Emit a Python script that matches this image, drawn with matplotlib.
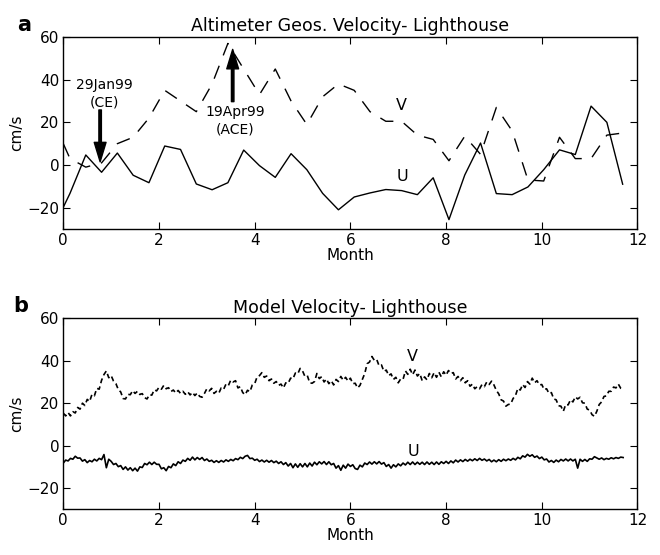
import numpy as np
import matplotlib
matplotlib.use("Agg")
import matplotlib.pyplot as plt

plt.rcParams['font.family'] = ['DejaVu Sans']

# altimeter (10-day) velocities, panel a
alt_month = [0.0, 0.14, 0.47, 0.80, 1.13, 1.46, 1.79, 2.12, 2.45, 2.78, 3.11, 3.44,
             3.77, 4.10, 4.43, 4.76, 5.09, 5.42, 5.75, 6.08, 6.41, 6.74, 7.07, 7.40,
             7.73, 8.06, 8.39, 8.72, 9.05, 9.38, 9.71, 10.04, 10.37, 10.70, 11.03,
             11.36, 11.69]
alt_u = [-19.8, -13.3, 4.7, -3.4, 5.6, -4.8, -8.3, 8.9, 7.3, -8.9, -11.6, -8.3,
         7.0, -0.3, -5.8, 5.3, -2.2, -13.3, -21.0, -15.0, -13.1, -11.5, -12.0, -13.9,
         -6.0, -25.6, -4.7, 10.3, -13.4, -13.9, -10.3, -2.2, 7.1, 4.9, 27.6,
         20.0, -9.0]
alt_v = [10.0, 3.0, -1.0, 1.0, 10.0, 13.0, 22.0, 35.0, 30.0, 25.0, 38.0, 57.0,
         45.0, 33.0, 45.0, 30.0, 19.0, 32.0, 38.0, 35.0, 25.0, 20.5, 20.5, 14.0,
         12.0, 2.0, 13.5, 5.0, 27.0, 16.0, -7.0, -7.5, 13.0, 3.0, 3.0,
         14.0, 15.0]

# model velocities, panel b (one value every 0.05 month)
model_step = 0.05
model_v = [
    15.3, 14.0, 15.6, 14.0, 16.0, 15.4, 18.0, 17.2, 20.0, 18.9, 21.8, 20.8, 24.2, 23.5, 27.0, 26.6, 30.8, 33.5, 35.2, 32.0,
    33.0, 30.4, 29.2, 26.4, 25.3, 22.2, 22.0, 24.2, 24.0, 25.9, 24.6, 25.6, 24.1, 24.5, 22.6, 22.0, 24.0, 23.8, 26.3, 25.8,
    27.5, 26.6, 28.4, 26.8, 27.3, 25.5, 26.2, 24.8, 26.0, 24.6, 25.6, 24.2, 25.4, 23.9, 25.1, 23.6, 24.8, 23.2, 22.8, 24.6,
    26.8, 25.8, 27.0, 24.6, 25.6, 24.7, 27.2, 26.5, 29.0, 28.3, 30.9, 30.0, 30.6, 27.2, 27.8, 25.0, 24.0, 26.1, 25.4, 28.6,
    29.2, 32.4, 33.0, 34.4, 32.2, 32.8, 30.6, 31.4, 29.4, 30.2, 28.4, 29.0, 27.2, 29.6, 29.4, 31.8, 31.5, 34.2, 33.8, 36.4,
    35.2, 32.6, 33.0, 29.6, 29.4, 30.2, 34.0, 31.6, 32.5, 30.0, 31.4, 29.2, 30.6, 28.6, 31.2, 30.2, 32.6, 30.8, 32.2, 30.4,
    31.8, 29.2, 29.4, 27.2, 28.4, 31.2, 34.0, 38.6, 39.4, 42.0, 40.2, 40.6, 37.6, 38.0, 35.0, 35.6, 33.0, 33.8, 31.2, 32.2,
    29.6, 31.4, 31.2, 35.2, 33.6, 36.0, 33.4, 35.6, 32.8, 34.0, 30.6, 32.4, 31.0, 34.0, 32.0, 34.4, 32.2, 34.6, 32.4, 34.8,
    33.2, 35.4, 34.0, 34.4, 31.4, 32.6, 30.6, 32.0, 29.6, 30.6, 28.0, 29.0, 26.8, 27.8, 26.8, 28.8, 27.8, 30.0, 28.8, 30.4,
    28.6, 26.0, 24.4, 21.6, 21.0, 18.6, 19.4, 19.6, 22.2, 23.6, 27.0, 26.2, 28.8, 27.4, 30.2, 29.0, 31.8, 29.6, 30.6, 28.6,
    28.8, 26.4, 26.8, 24.6, 25.0, 22.0, 21.6, 18.8, 18.6, 16.2, 19.4, 19.2, 21.6, 20.6, 23.0, 22.0, 22.8, 20.2, 20.0, 17.2,
    16.8, 14.6, 13.8, 16.2, 19.4, 20.6, 23.2, 23.4, 25.6, 25.6, 27.6, 27.2, 29.0, 27.0, 26.4,
]
model_u = [
    -8.2, -6.8, -7.2, -6.0, -6.4, -5.0, -5.9, -5.8, -7.3, -6.6, -8.0, -7.0, -7.6, -6.4, -7.2, -6.0, -6.6, -4.2, -10.4, -6.4,
    -7.4, -8.9, -8.4, -9.9, -9.4, -11.2, -10.0, -11.5, -10.4, -11.8, -10.6, -12.0, -10.0, -10.3, -8.4, -9.0, -7.8, -8.9, -7.8, -8.8,
    -8.8, -10.9, -10.4, -11.8, -9.8, -10.4, -8.6, -9.4, -7.6, -8.4, -6.8, -7.4, -6.0, -6.9, -5.4, -6.7, -5.6, -6.5, -5.6, -7.0,
    -6.3, -7.4, -6.9, -7.9, -7.1, -7.9, -7.0, -7.7, -6.7, -7.4, -6.5, -7.1, -6.1, -6.6, -5.5, -6.1, -5.0, -4.6, -6.1, -5.9,
    -6.9, -6.4, -7.5, -6.8, -7.7, -6.9, -7.8, -7.0, -8.0, -7.3, -8.4, -7.6, -8.9, -8.0, -9.6, -8.4, -10.4, -8.6, -10.2, -8.5,
    -10.0, -8.4, -10.0, -8.2, -9.6, -7.8, -9.0, -7.6, -8.6, -7.5, -8.9, -7.6, -9.0, -8.4, -10.6, -9.4, -11.6, -9.2, -10.6, -8.7,
    -9.8, -9.0, -10.8, -11.2, -9.2, -10.0, -8.2, -8.9, -7.7, -8.7, -7.6, -8.6, -7.5, -8.7, -8.0, -9.8, -8.9, -10.6, -9.0, -10.0,
    -8.6, -9.5, -8.2, -9.1, -7.8, -8.9, -7.7, -8.9, -7.8, -8.8, -7.8, -8.9, -7.7, -8.8, -7.8, -8.9, -7.7, -8.8, -7.6, -8.4,
    -7.4, -8.4, -7.2, -8.1, -6.8, -7.7, -6.7, -7.5, -6.5, -7.3, -6.4, -7.1, -6.2, -7.0, -6.0, -6.9, -6.3, -7.2, -6.5, -7.6,
    -6.8, -7.6, -6.6, -7.4, -6.4, -7.1, -6.3, -6.9, -6.0, -6.7, -5.5, -6.2, -4.8, -5.4, -4.1, -5.0, -4.3, -5.5, -4.9, -6.1,
    -5.4, -6.7, -6.3, -7.7, -7.0, -7.9, -6.8, -7.6, -6.5, -7.2, -6.3, -7.2, -6.3, -7.2, -6.4, -10.6, -6.4, -7.4, -6.5, -7.4,
    -6.2, -6.4, -5.2, -5.8, -6.4, -5.8, -6.6, -6.0, -6.4, -5.7, -6.2, -5.6, -6.0, -5.4, -5.6,
]
model_month = np.arange(len(model_v)) * model_step

fig = plt.figure(figsize=(6.6, 5.55), dpi=100)
ax1 = fig.add_axes([0.0959, 0.5874, 0.870, 0.3459])
ax2 = fig.add_axes([0.0959, 0.0823, 0.870, 0.3442])

# panel a
ax1.plot(alt_month, alt_u, color='k', lw=1.0)
ax1.plot(alt_month, alt_v, color='k', lw=1.0, linestyle=(0, (10, 8)))
ax1.text(7.06, 27.7, 'V', ha='center', va='center', fontsize=11.5)
ax1.text(7.09, -5.2, 'U', ha='center', va='center', fontsize=11.5)

arrow = dict(facecolor='k', edgecolor='k', width=1.8, headwidth=8.5, headlength=14, shrink=0)
ax1.annotate('', xy=(0.77, 1.5), xytext=(0.77, 25.8), arrowprops=arrow)
ax1.text(0.86, 33.5, '29Jan99\n(CE)', ha='center', va='center', fontsize=10, linespacing=1.3)
ax1.annotate('', xy=(3.54, 54.2), xytext=(3.54, 29.7), arrowprops=arrow)
ax1.text(3.6, 20.9, '19Apr99\n(ACE)', ha='center', va='center', fontsize=10, linespacing=1.3)

ax1.set_title('Altimeter Geos. Velocity- Lighthouse', fontsize=12.5, pad=4)

# panel b
ax2.plot(model_month, model_u, color='k', lw=1.2)
ax2.plot(model_month, model_v, color='k', lw=1.2, linestyle=(0, (3, 2)))
ax2.text(7.29, 41.9, 'V', ha='center', va='center', fontsize=11.5)
ax2.text(7.31, -2.8, 'U', ha='center', va='center', fontsize=11.5)
ax2.set_title('Model Velocity- Lighthouse', fontsize=12.5, pad=4)

for ax in (ax1, ax2):
    ax.set_xlim(0, 12)
    ax.set_ylim(-30, 60)
    ax.set_xticks([0, 2, 4, 6, 8, 10, 12])
    ax.set_yticks([-20, 0, 20, 40, 60])
    ax.tick_params(direction='in', top=True, right=True, length=5, width=0.8,
                   labelsize=11, pad=3)
    ax.set_xlabel('Month', fontsize=11, labelpad=0)
    ax.set_ylabel('cm/s', fontsize=11, labelpad=2)
    for s in ax.spines.values():
        s.set_linewidth(1.0)

fig.text(24 / 660, 1 - 25 / 555, 'a', fontsize=15, fontweight='bold', ha='center', va='center')
fig.text(21 / 660, 1 - 306 / 555, 'b', fontsize=15, fontweight='bold', ha='center', va='center')

fig.savefig('out.png', dpi=100)
